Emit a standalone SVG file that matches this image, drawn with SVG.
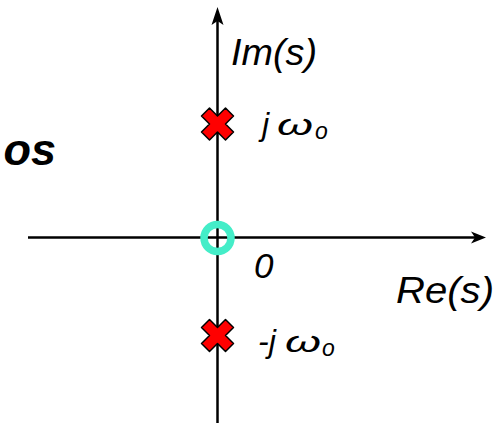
<svg xmlns="http://www.w3.org/2000/svg" width="498" height="423" viewBox="0 0 498 423">
<defs>
<style>
.axis{stroke:#000;stroke-width:2.5;fill:none}
.lbl{font-family:"Liberation Sans",Arial,sans-serif;font-style:italic;fill:#000}
.om{font-family:"Liberation Sans",Arial,sans-serif;font-style:italic;font-weight:normal;fill:#000}
.pole{fill:#FF0000;stroke:#000;stroke-width:1.5;stroke-linejoin:round}
</style>
<polygon id="x" points="-16,-8 -8,-16 0,-8 8,-16 16,-8 8,0 16,8 8,16 0,8 -8,16 -16,8 -8,0"/>
</defs>
<rect width="498" height="423" fill="#fff"/>
<g id="connectors">
<line class="axis" x1="217.5" y1="20" x2="217.5" y2="423"/>
<polygon points="217.5,7 211.5,25 217.5,21 223.5,25" fill="#000"/>
<line class="axis" x1="28" y1="237.5" x2="475" y2="237.5"/>
<polygon points="486,237.5 471,231.5 475,237.5 471,243.5" fill="#000"/>
</g>
<g id="title"><text class="lbl" x="56" y="165" font-size="45" font-weight="bold" text-anchor="end">os</text></g>
<g id="im-label"><text class="lbl" x="231" y="65" font-size="36" textLength="86" lengthAdjust="spacingAndGlyphs">Im(s)</text></g>
<g id="re-label"><text class="lbl" x="396" y="303" font-size="36" textLength="98" lengthAdjust="spacingAndGlyphs">Re(s)</text></g>
<g id="zero-label"><text class="lbl" x="254" y="278" font-size="35">0</text></g>
<g id="pole-top">
<use href="#x" class="pole" transform="translate(217.5,124)"/>
<text class="lbl" x="262" y="135" font-size="32">j</text>
<text class="om" x="277" y="135" font-size="30" textLength="36" lengthAdjust="spacingAndGlyphs">ω</text>
<text class="lbl" x="315" y="139" font-size="23">o</text>
</g>
<g id="pole-bottom">
<use href="#x" class="pole" transform="translate(217.5,335.5)"/>
<text class="lbl" x="258" y="352" font-size="32">-j</text>
<text class="om" x="285" y="352" font-size="30" textLength="36" lengthAdjust="spacingAndGlyphs">ω</text>
<text class="lbl" x="322" y="356" font-size="23">o</text>
</g>
<g id="zero">
<circle cx="217.5" cy="238" r="13.5" fill="none" stroke="#44EDC8" stroke-width="7.5"/>
</g>
</svg>
